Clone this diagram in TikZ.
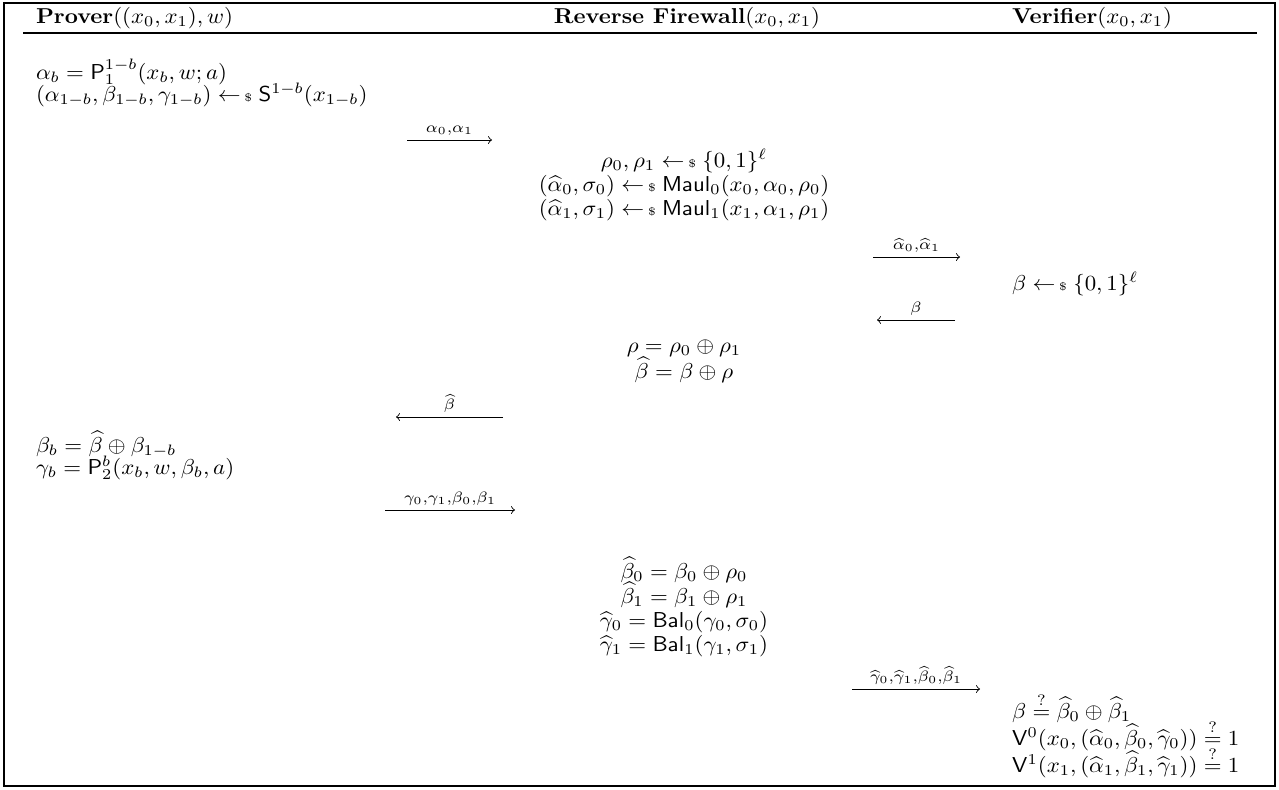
\documentclass[tikz,border=0pt]{standalone}
\usepackage{amsmath,amssymb,graphicx}
\newcommand{\smpl}{\mathrel{\leftarrow\mkern-2mu{\scriptscriptstyle\$}}}
\newcommand{\qeq}{\stackrel{?}{=}}
\newcommand{\T}[1]{\scalebox{1.04}[0.98]{#1}}
\begin{document}
\begin{tikzpicture}[x=0.4545pt,y=-0.4545pt,
  txt/.style={inner sep=0pt,outer sep=0pt},
  lft/.style={txt,anchor=base west},
  ctr/.style={txt,anchor=base},
  msg/.style={->,line width=0.4pt},
  lab/.style={above,inner sep=2pt}]
\useasboundingbox (0,0) rectangle (1279,789);
\draw[line width=0.5pt] (4,3) rectangle (1275,786);
% headers
\node[lft] (hp) at (36,23) {\T{\textbf{Prover}$((x_0,x_1),w)$}};
\node[ctr] (hr) at (687,23) {\T{\textbf{Reverse Firewall}$(x_0,x_1)$}};
\node[lft] (hv) at (1012,23) {\T{\textbf{Verifier}$(x_0,x_1)$}};
\coordinate (rl) at (23,33);
\coordinate (rr) at (1257,33);
\draw[line width=0.5pt] (rl) -- (rr);
% prover round 1
\node[lft] (p1) at (36,79) {\T{$\alpha_b=\mathsf{P}_1^{1-b}(x_b,w;a)$}};
\node[lft] (p2) at (36,101) {\T{$(\alpha_{1-b},\beta_{1-b},\gamma_{1-b})\smpl\mathsf{S}^{1-b}(x_{1-b})$}};
\coordinate (a1s) at (407,140); \coordinate (a1e) at (492,140);
\draw[msg] (a1s) -- node[lab] {\T{$\scriptstyle\alpha_0,\alpha_1$}} (a1e);
% firewall 1
\node[ctr] (r1) at (684,167) {\T{$\rho_0,\rho_1\smpl\{0,1\}^\ell$}};
\node[ctr] (r2) at (684,191) {\T{$(\widehat{\alpha}_0,\sigma_0)\smpl\mathsf{Maul}_0(x_0,\alpha_0,\rho_0)$}};
\node[ctr] (r3) at (684,215) {\T{$(\widehat{\alpha}_1,\sigma_1)\smpl\mathsf{Maul}_1(x_1,\alpha_1,\rho_1)$}};
\coordinate (a2s) at (873,257); \coordinate (a2e) at (960,257);
\draw[msg] (a2s) -- node[lab] {\T{$\scriptstyle\widehat{\alpha}_0,\widehat{\alpha}_1$}} (a2e);
% verifier 1
\node[lft] (v1) at (1012,290) {\T{$\beta\smpl\{0,1\}^\ell$}};
\coordinate (a3s) at (955,320); \coordinate (a3e) at (877,320);
\draw[msg] (a3s) -- node[lab] {\T{$\scriptstyle\beta$}} (a3e);
% firewall 2
\node[ctr] (r4) at (684,352) {\T{$\rho=\rho_0\oplus\rho_1$}};
\node[ctr] (r5) at (684,378) {\T{$\widehat{\beta}=\beta\oplus\rho$}};
\coordinate (a4s) at (503,417); \coordinate (a4e) at (396,417);
\draw[msg] (a4s) -- node[lab] {\T{$\scriptstyle\widehat{\beta}$}} (a4e);
% prover 2
\node[lft] (p3) at (36,452) {\T{$\beta_b=\widehat{\beta}\oplus\beta_{1-b}$}};
\node[lft] (p4) at (36,474) {\T{$\gamma_b=\mathsf{P}_2^{b}(x_b,w,\beta_b,a)$}};
\coordinate (a5s) at (385,510); \coordinate (a5e) at (515,510);
\draw[msg] (a5s) -- node[lab] {\T{$\scriptstyle\gamma_0,\gamma_1,\beta_0,\beta_1$}} (a5e);
% firewall 3
\node[ctr] (r6) at (684,578) {\T{$\widehat{\beta}_0=\beta_0\oplus\rho_0$}};
\node[ctr] (r7) at (684,603) {\T{$\widehat{\beta}_1=\beta_1\oplus\rho_1$}};
\node[ctr] (r8) at (684,627) {\T{$\widehat{\gamma}_0=\mathsf{Bal}_0(\gamma_0,\sigma_0)$}};
\node[ctr] (r9) at (684,651) {\T{$\widehat{\gamma}_1=\mathsf{Bal}_1(\gamma_1,\sigma_1)$}};
\coordinate (a6s) at (852,689); \coordinate (a6e) at (980,689);
\draw[msg] (a6s) -- node[lab] {\T{$\scriptstyle\widehat{\gamma}_0,\widehat{\gamma}_1,\widehat{\beta}_0,\widehat{\beta}_1$}} (a6e);
% verifier 2
\node[lft] (v2) at (1012,718) {\T{$\beta\qeq\widehat{\beta}_0\oplus\widehat{\beta}_1$}};
\node[lft] (v3) at (1012,745) {\T{$\mathsf{V}^0(x_0,(\widehat{\alpha}_0,\widehat{\beta}_0,\widehat{\gamma}_0))\qeq 1$}};
\node[lft] (v4) at (1012,772) {\T{$\mathsf{V}^1(x_1,(\widehat{\alpha}_1,\widehat{\beta}_1,\widehat{\gamma}_1))\qeq 1$}};
\end{tikzpicture}
\end{document}
